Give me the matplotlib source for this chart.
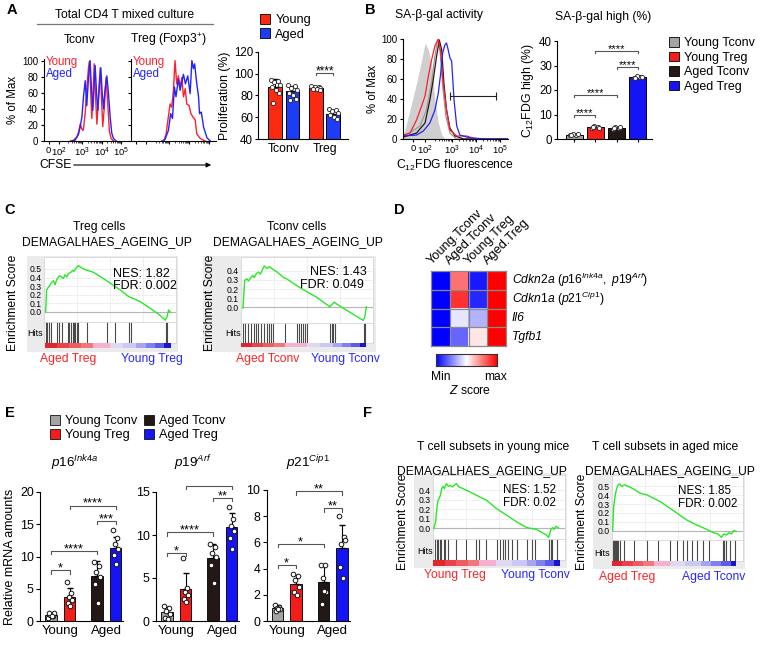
import numpy as np
import matplotlib
matplotlib.use("Agg")
import matplotlib.pyplot as plt
from matplotlib.patches import Rectangle, Patch
from matplotlib.colors import LinearSegmentedColormap

plt.rcParams['font.family'] = ['Liberation Sans', 'DejaVu Sans']
plt.rcParams['mathtext.fontset'] = 'custom'
plt.rcParams['mathtext.rm'] = 'Liberation Sans'
plt.rcParams['mathtext.it'] = 'Liberation Sans:italic'
plt.rcParams['mathtext.bf'] = 'Liberation Sans:bold'
plt.rcParams['axes.linewidth'] = 0.8
plt.rcParams['xtick.major.width'] = 0.8
plt.rcParams['ytick.major.width'] = 0.8

# ---------------- DATA ----------------
# A: CFSE histograms (x = log10 channel, y = % of max)
tconv_young_x = [2.39, 2.56, 2.73, 2.83, 2.90, 2.97, 3.04, 3.07, 3.16, 3.24, 3.33, 3.38, 3.45, 3.50, 3.55,
                 3.62, 3.69, 3.76, 3.84, 3.93, 3.99, 4.06, 4.15, 4.23, 4.32, 4.40, 4.49, 4.61]
tconv_young_y = [0, 1, 5, 12, 21, 16, 13, 15, 35, 65, 92, 99, 55, 28, 55,
                 96, 55, 21, 55, 91, 55, 18, 45, 79, 45, 12, 3, 0]
tconv_aged_x = [2.47, 2.64, 2.81, 2.90, 2.99, 3.07, 3.16, 3.24, 3.33, 3.41, 3.48, 3.55, 3.62, 3.67,
                3.74, 3.81, 3.89, 3.96, 4.03, 4.10, 4.18, 4.27, 4.35, 4.44, 4.52, 4.61, 4.75]
tconv_aged_y = [0, 1, 8, 17, 30, 55, 75, 44, 80, 100, 65, 38, 70, 94,
                60, 38, 70, 91, 60, 40, 65, 81, 60, 30, 10, 3, 0]
treg_young_x = [2.61, 2.73, 2.83, 2.95, 3.04, 3.12, 3.21, 3.29, 3.38, 3.46, 3.55, 3.64, 3.72, 3.81,
                3.89, 4.01, 4.10, 4.20, 4.32, 4.40, 4.58, 4.83]
treg_young_y = [0, 1, 8, 30, 46, 42, 63, 100, 71, 81, 67, 79, 55, 65,
                46, 44, 34, 30, 26, 9, 3, 0]
treg_aged_x = [2.66, 2.78, 2.95, 3.07, 3.16, 3.26, 3.34, 3.46, 3.55, 3.72, 3.82, 3.94, 4.06, 4.15,
               4.23, 4.29, 4.40, 4.49, 4.54, 4.63, 4.75, 4.92, 5.09]
treg_aged_y = [0, 2, 13, 34, 28, 67, 55, 77, 63, 83, 71, 81, 59, 100,
               90, 96, 71, 55, 34, 36, 17, 4, 0]

# A: proliferation (%)
prolif_groups = ["Tconv", "Treg"]
prolif_young = [88, 87]
prolif_aged = [84, 63]
prolif_young_sd = [7, 1.5]
prolif_aged_sd = [5, 3.5]
prolif_young_pts = [[94, 93, 92, 90, 88, 85, 82, 73], [89, 88, 88, 87, 86, 86, 85]]
prolif_aged_pts = [[90, 89, 87, 85, 82, 80, 77, 76], [68, 67, 66, 64, 62, 60, 58]]

# B: C12FDG histograms
ctrl_x = [1.0, 1.28, 1.55, 1.76, 1.90, 2.04, 2.18, 2.31, 2.45, 2.59, 2.73]
ctrl_y = [3, 29, 56, 79, 96, 89, 73, 39, 16, 4, 0]
ytreg_x = [1.0, 1.28, 1.55, 1.76, 1.90, 2.04, 2.17, 2.31, 2.45, 2.55, 2.65, 2.79, 2.93, 3.21, 3.62, 3.89, 4.2, 5.33]
ytreg_y = [4, 6, 19, 33, 43, 63, 79, 93, 100, 86, 56, 29, 9, 3, 3, 1, 0, 0]
atreg_x = [1.0, 1.55, 1.83, 2.10, 2.31, 2.45, 2.55, 2.63, 2.72, 2.79, 2.86, 2.93, 3.0, 3.10, 3.21, 3.34, 3.76, 4.5, 5.33]
atreg_y = [3, 4, 8, 16, 29, 46, 66, 86, 94, 96, 89, 81, 78, 39, 13, 4, 1, 0, 0]
atconv_x = [1.0, 1.55, 1.90, 2.10, 2.24, 2.38, 2.49, 2.59, 2.68, 2.79, 2.93, 3.14, 3.5, 5.33]
atconv_y = [2, 6, 16, 39, 59, 83, 99, 89, 56, 29, 11, 3, 0, 0]
ytconv_x = [1.0, 1.69, 1.96, 2.17, 2.31, 2.42, 2.52, 2.63, 2.76, 2.93, 3.2, 5.33]
ytconv_y = [2, 13, 29, 56, 83, 99, 89, 53, 23, 6, 0, 0]
gate_x = [2.93, 4.83]
gate_y = 43

# B: SA-beta-gal high (%)
subsets = ["Young Tconv", "Young Treg", "Aged Tconv", "Aged Treg"]
sagal_mean = [1.8, 4.8, 4.6, 25.2]
sagal_pts = [[1.5, 1.8, 2.0, 2.2, 1.6], [4.3, 4.8, 5.2, 4.6, 5.0], [4.2, 4.6, 5.0, 4.8, 4.4], [24.8, 25.2, 25.6, 25.4, 24.9]]
sagal_sig = [(0, 1, 10, "****"), (0, 2, 18, "****"), (2, 3, 29.5, "****"), (1, 3, 36, "****")]

# C / F: GSEA running enrichment scores (fraction of ranked list, ES)
c1_x = [0.013, 0.020, 0.033, 0.046, 0.058, 0.071, 0.084, 0.096, 0.116, 0.134, 0.147, 0.159, 0.172, 0.185, 0.203,
        0.218, 0.228, 0.243, 0.261, 0.286, 0.311, 0.329, 0.375, 0.425, 0.501, 0.577, 0.641, 0.678, 0.729, 0.805,
        0.868, 0.919, 0.932, 0.944, 0.957]
c1_es = [0.0, 0.256, 0.287, 0.315, 0.343, 0.362, 0.315, 0.374, 0.421, 0.406, 0.390, 0.433, 0.406, 0.445, 0.461,
         0.484, 0.472, 0.512, 0.539, 0.512, 0.492, 0.484, 0.461, 0.413, 0.335, 0.256, 0.177, 0.154, 0.118, 0.039,
         -0.028, -0.098, -0.059, 0.020, -0.004]
c1_hits = [0.013, 0.023, 0.041, 0.053, 0.096, 0.116, 0.137, 0.180, 0.190, 0.203, 0.218, 0.228, 0.238, 0.248,
           0.256, 0.329, 0.476, 0.539, 0.646, 0.658, 0.924, 0.929]
c2_x = [0.015, 0.028, 0.045, 0.058, 0.075, 0.090, 0.101, 0.116, 0.133, 0.146, 0.161, 0.176, 0.196, 0.216, 0.234,
        0.271, 0.322, 0.347, 0.447, 0.573, 0.673, 0.706, 0.749, 0.849, 0.925, 0.937, 0.950]
c2_es = [-0.007, 0.296, 0.311, 0.289, 0.326, 0.348, 0.326, 0.370, 0.385, 0.363, 0.407, 0.452, 0.426, 0.444, 0.422,
         0.389, 0.326, 0.311, 0.215, 0.111, 0.007, 0.056, 0.015, -0.074, -0.141, -0.111, 0.007]
c2_hits = [0.015, 0.028, 0.050, 0.075, 0.095, 0.111, 0.128, 0.151, 0.176, 0.196, 0.214, 0.226, 0.246, 0.334,
           0.422, 0.437, 0.452, 0.467, 0.485, 0.503, 0.673, 0.686, 0.698, 0.711, 0.930, 0.942]
f1_x = [0.005, 0.020, 0.030, 0.038, 0.046, 0.056, 0.066, 0.076, 0.086, 0.101, 0.116, 0.132, 0.147, 0.162, 0.177,
        0.197, 0.228, 0.253, 0.278, 0.316, 0.354, 0.405, 0.481, 0.557, 0.633, 0.709, 0.785, 0.861, 0.876, 0.891,
        0.906, 0.916, 0.932, 0.949]
f1_es = [0.0, 0.070, 0.226, 0.296, 0.313, 0.348, 0.417, 0.442, 0.417, 0.470, 0.442, 0.452, 0.435, 0.452, 0.470,
         0.435, 0.417, 0.400, 0.383, 0.358, 0.330, 0.296, 0.209, 0.139, 0.070, 0.010, -0.010, -0.070, -0.094, -0.017,
         0.010, -0.010, 0.024, 0.007]
f1_hits = [0.018, 0.028, 0.038, 0.051, 0.063, 0.081, 0.094, 0.114, 0.177, 0.253, 0.329, 0.347, 0.405, 0.486,
           0.506, 0.527, 0.547, 0.570, 0.595, 0.633, 0.709, 0.747, 0.772, 0.881, 0.891, 0.901, 0.937]
f2_x = [0.005, 0.013, 0.023, 0.033, 0.043, 0.056, 0.076, 0.094, 0.114, 0.139, 0.165, 0.215, 0.266, 0.316, 0.367,
        0.468, 0.570, 0.646, 0.722, 0.772, 0.810, 0.835, 0.853, 0.873, 0.894, 0.911, 0.929, 0.949]
f2_es = [0.0, 0.273, 0.386, 0.462, 0.508, 0.530, 0.500, 0.519, 0.508, 0.492, 0.470, 0.424, 0.405, 0.367, 0.330,
         0.227, 0.121, 0.064, 0.015, -0.023, -0.038, -0.076, -0.038, -0.049, -0.023, -0.038, 0.000, -0.008]
f2_hits = [0.010, 0.018, 0.025, 0.033, 0.041, 0.048, 0.058, 0.094, 0.165, 0.266, 0.354, 0.443, 0.494, 0.544,
           0.570, 0.608, 0.646, 0.696, 0.742, 0.848, 0.858, 0.868, 0.899, 0.939]

# D: heatmap z scores
heat_cols = ["Young.Tconv", "Aged.Tconv", "Young.Treg", "Aged.Treg"]
heat_rows = [r"$\mathit{Cdkn2a\ (p16^{Ink4a},\ p19^{Arf})}$", r"$\mathit{Cdkn1a\ (p21^{Cip1})}$",
             "Il6", "Tgfb1"]
heat_vals = [[-1.0, 0.55, -0.9, 1.0],
             [-1.0, 0.80, -0.85, 1.0],
             [-1.0, -0.10, -0.30, 1.0],
             [-1.0, -0.60, 0.10, 1.0]]

# E: relative mRNA amounts
genes = [r"$\mathit{p16^{Ink4a}}$", r"$\mathit{p19^{Arf}}$", r"$\mathit{p21^{Cip1}}$"]
mrna_mean = [[1.0, 3.7, 7.0, 11.3], [1.0, 3.7, 7.3, 10.9], [1.0, 2.85, 2.95, 5.6]]
mrna_sd = [[0.3, 1.4, 2.3, 1.7], [0.6, 1.9, 1.7, 1.7], [0.2, 0.65, 1.35, 1.7]]
mrna_pts = [
    [[0.5, 0.8, 1.0, 1.2, 1.3, 0.7], [6.0, 4.3, 3.7, 3.2, 2.8, 2.4], [9.2, 8.5, 7.6, 6.8, 5.8, 2.8], [14.1, 12.8, 12.0, 11.2, 10.2, 8.9]],
    [[1.8, 1.5, 1.2, 0.8, 0.4, 0.2], [7.3, 3.8, 3.4, 3.0, 2.6, 2.2], [9.0, 8.6, 7.9, 7.4, 6.5, 4.4], [13.3, 11.9, 11.0, 10.5, 9.6, 8.4]],
    [[1.2, 1.1, 1.0, 0.9, 0.8, 0.9], [3.6, 3.4, 3.1, 2.6, 2.2, 2.0], [4.3, 4.3, 3.3, 2.2, 1.3, 2.3], [8.0, 6.4, 5.9, 6.2, 4.1, 3.3]],
]
mrna_ylim = [20, 15, 10]
mrna_ystep = [5, 5, 2]
mrna_sig = [
    [(0, 1, 7.85, "*"), (0, 2, 10.9, "****"), (2, 3, 15.5, "***"), (1, 3, 17.9, "****")],
    [(0, 1, 7.9, "*"), (0, 2, 10.3, "****"), (2, 3, 14.3, "**"), (1, 3, 15.7, "****")],
    [(0, 1, 4.3, "*"), (0, 2, 5.9, "*"), (2, 3, 8.6, "**"), (1, 3, 9.9, "**")],
]

# ---------------- STYLE ----------------
C_GRAY, C_RED, C_DARK, C_BLUE = "#a3a3a3", "#f51c1c", "#231815", "#1414f5"
SUB_COLORS = [C_GRAY, C_RED, C_DARK, C_BLUE]
H_RED, H_BLUE = "#ff1f2f", "#2323ff"
ES_GREEN = "#27e827"
OFFS = np.array([-0.2, 0.12, -0.06, 0.2, -0.14, 0.04, 0.16, -0.1])
FS = 8.7

W, H = 764, 651
fig = plt.figure(figsize=(W / 100, H / 100), dpi=100)


def px_ax(x0, y0, x1, y1):
    return fig.add_axes([x0 / W, 1 - y1 / H, (x1 - x0) / W, (y1 - y0) / H])


def ftxt(x, y, s, **kw):
    kw.setdefault("ha", "center")
    kw.setdefault("va", "center")
    return fig.text(x / W, 1 - y / H, s, **kw)


def frect(x0, y0, x1, y1, color):
    fig.patches.append(Rectangle((x0 / W, 1 - y1 / H), (x1 - x0) / W, (y1 - y0) / H,
                                 transform=fig.transFigure, color=color, lw=0, zorder=-1))


def prism(ax):
    for s in ("top", "right"):
        ax.spines[s].set_visible(False)


def bracket(ax, xa, xb, y, label, tick, fs):
    ax.plot([xa, xa, xb, xb], [y - tick, y, y, y - tick], color="#555555", lw=0.8, clip_on=False)
    ax.annotate(label, ((xa + xb) / 2, y), xytext=(0, -1), textcoords="offset points",
                ha="center", va="baseline", fontsize=fs)


# panel letters
for lab, x, y in [("A", 12, 10), ("B", 370, 10), ("C", 10, 210), ("D", 399, 210), ("E", 10, 413), ("F", 368, 413)]:
    ftxt(x, y, lab, fontsize=10.5, fontweight="bold")

# ---------------- A ----------------
ftxt(125, 15, "Total CD4 T mixed culture", fontsize=FS)
fig.add_artist(plt.Line2D([37 / W, 213 / W], [1 - 24 / H, 1 - 24 / H], color="#777777", lw=0.9))
ftxt(80, 40, "Tconv", fontsize=FS)
ftxt(168, 40, "Treg (Foxp3$^{+}$)", fontsize=FS)

hist_specs = [((43.5, 59, 128.5, 141), tconv_young_x, tconv_young_y, tconv_aged_x, tconv_aged_y, True),
              ((130.5, 59, 216, 141), treg_young_x, treg_young_y, treg_aged_x, treg_aged_y, False)]
for box, yx, yy, ax_, ay, first in hist_specs:
    ax = px_ax(*box)
    ax.plot(yx, yy, color=H_RED, lw=1.0)
    ax.plot(ax_, ay, color=H_BLUE, lw=1.0)
    ax.set_xlim(1.02, 5.38)
    ax.set_ylim(0, 102)
    prism(ax)
    ax.set_yticks(range(0, 101, 20))
    ax.tick_params(axis="y", length=2.5, pad=1.5, labelsize=7)
    minors = [d + np.log10(k) for d in (2, 3, 4) for k in range(2, 10)]
    ax.set_xticks(minors, minor=True)
    ax.tick_params(axis="x", which="minor", length=1.5, width=0.5)
    ax.set_xticks([1.28, 1.82, 3, 4, 5])
    ax.tick_params(axis="x", length=2.5, pad=1, labelsize=6.8)
    if first:
        ax.set_xticklabels(["0", "10$^2$", "10$^3$", "10$^4$", "10$^5$"])
        ax.set_ylabel("% of Max", fontsize=8.3, labelpad=2)
    else:
        ax.set_xticklabels([])
        ax.set_yticklabels([])
    ax.text(0.03, 0.96, "Young", color=H_RED, transform=ax.transAxes, fontsize=8.3, va="center")
    ax.text(0.03, 0.82, "Aged", color=H_BLUE, transform=ax.transAxes, fontsize=8.3, va="center")

ftxt(39, 165, "CFSE", fontsize=FS, ha="left")
fig.add_artist(matplotlib.patches.FancyArrowPatch((71 / W, 1 - 165 / H), (214 / W, 1 - 165 / H),
                                                  transform=fig.transFigure, arrowstyle="-|>",
                                                  mutation_scale=7, color="black", lw=0.8))

ax = px_ax(258, 52, 348, 139)
gx = np.arange(len(prolif_groups))
off, bw = 0.213, 0.34
A_RED, A_BLUE = "#fb2a10", "#1c3cf5"
ax.bar(gx - off, prolif_young, bw, color=A_RED, edgecolor="black", lw=0.7, zorder=2)
ax.bar(gx + off, prolif_aged, bw, color=A_BLUE, edgecolor="black", lw=0.7, zorder=2)
ax.errorbar(gx - off, prolif_young, yerr=[[0] * 2, prolif_young_sd], fmt="none", ecolor="black", elinewidth=0.7, capsize=2.5, zorder=3)
ax.errorbar(gx + off, prolif_aged, yerr=[[0] * 2, prolif_aged_sd], fmt="none", ecolor="black", elinewidth=0.7, capsize=2.5, zorder=3)
for g in range(2):
    for pos, pts in ((g - off, prolif_young_pts[g]), (g + off, prolif_aged_pts[g])):
        ax.scatter(pos + OFFS[:len(pts)] * 0.55, pts, s=9, facecolor="white", edgecolor="#222222", lw=0.6, zorder=4)
ax.set_xlim(-0.63, 1.57)
ax.set_ylim(40, 120)
ax.set_yticks(range(40, 121, 20))
prism(ax)
ax.set_xticks(gx)
ax.set_xticklabels(prolif_groups)
ax.tick_params(axis="y", length=2.5, pad=1, labelsize=8.3)
ax.tick_params(axis="x", length=0, pad=3, labelsize=8.8)
ax.set_ylabel("Proliferation (%)", fontsize=8.8, labelpad=2)
bracket(ax, 1 - off, 1 + off, 100.5, "****", 2, 8.5)
fig.legend([Patch(facecolor=A_RED, edgecolor="black", lw=0.6), Patch(facecolor=A_BLUE, edgecolor="black", lw=0.6)],
           ["Young", "Aged"], loc="upper left", bbox_to_anchor=(260 / W, 1 - 14 / H), frameon=False,
           fontsize=9.2, handlelength=0.8, handleheight=0.8, handletextpad=0.4, labelspacing=0.15,
           borderpad=0, borderaxespad=0)

# ---------------- B ----------------
ftxt(439, 15, "SA-β-gal activity", fontsize=FS)
ax = px_ax(403, 39, 508, 139)
ax.fill_between(ctrl_x, ctrl_y, color="#cfcfcf", lw=0)
ax.plot(ytconv_x, ytconv_y, color="#9a9a9a", lw=0.9)
ax.plot(atconv_x, atconv_y, color="#231815", lw=0.9)
ax.plot(ytreg_x, ytreg_y, color=H_RED, lw=0.9)
ax.plot(atreg_x, atreg_y, color=H_BLUE, lw=0.9)
ax.plot(gate_x, [gate_y, gate_y], color="#222222", lw=0.8)
ax.vlines(gate_x, gate_y - 4, gate_y + 4, color="#222222", lw=0.8)
ax.set_xlim(0.99, 5.33)
ax.set_ylim(0, 100)
prism(ax)
ax.set_yticks(range(0, 101, 20))
ax.tick_params(axis="y", length=2.5, pad=1.5, labelsize=7)
ax.set_xticks([d + np.log10(k) for d in (2, 3, 4) for k in range(2, 10)], minor=True)
ax.tick_params(axis="x", which="minor", length=1.5, width=0.5)
ax.set_xticks([1.4, 1.9, 3, 4, 5])
ax.set_xticklabels(["0", "10$^2$", "10$^3$", "10$^4$", "10$^5$"])
ax.tick_params(axis="x", length=2.5, pad=1, labelsize=6.8)
ax.set_ylabel("% of Max", fontsize=8.3, labelpad=2)
ftxt(455, 165, "C$_{12}$FDG fluorescence", fontsize=FS)

ftxt(603, 17, "SA-β-gal high (%)", fontsize=FS)
ax = px_ax(557, 41, 652, 139)
bx = np.arange(4)
ax.bar(bx, sagal_mean, 0.8, color=SUB_COLORS, edgecolor="black", lw=0.7, zorder=2)
for i in range(4):
    pts = sagal_pts[i]
    ax.scatter(bx[i] + OFFS[:len(pts)] * 0.9, pts, s=9, facecolor="white", edgecolor="#222222", lw=0.6, zorder=4)
for a, b, y, s in sagal_sig:
    bracket(ax, bx[a], bx[b], y, s, 1, 8)
ax.set_xlim(-0.8, 3.66)
ax.set_ylim(0, 40)
ax.set_yticks(range(0, 41, 10))
ax.set_xticks(bx)
ax.set_xticklabels([])
prism(ax)
ax.tick_params(axis="y", length=2.5, pad=1, labelsize=8.3)
ax.tick_params(axis="x", length=2.5)
ax.set_ylabel("C$_{12}$FDG high (%)", fontsize=8.8, labelpad=2)
fig.legend([Patch(facecolor=c, edgecolor="black", lw=0.6) for c in SUB_COLORS], subsets,
           loc="upper left", bbox_to_anchor=(669 / W, 1 - 37 / H), frameon=False, fontsize=9,
           handlelength=0.8, handleheight=0.8, handletextpad=0.4, labelspacing=0.2,
           borderpad=0, borderaxespad=0)

# ---------------- C / F: GSEA ----------------
RANK_ZONES = [["#e3262e", "#e9424a", "#ee5c62", "#f2777b"], ["#f5b0d2"], ["#e0d8f2", "#cbc8f4"],
              ["#a5a5f2", "#7f7fee", "#5c5cea"], ["#1e14cc"]]


def gsea(L, xs, es, hits):
    frect(*L["gray"], "#ebebeb")
    x0, x1 = L["x"]
    y0, y1, y2, y3 = L["y"]
    a = px_ax(x0, y0, x1, y1)
    a.plot(xs, es, color=ES_GREEN, lw=1.0, zorder=3)
    a.axhline(0, color="#b5b5b5", lw=0.8, zorder=2)
    a.set_xlim(0, 1)
    a.set_ylim(*L["ylim"])
    a.set_yticks(L["yticks"])
    a.set_yticklabels([f"{t:.1f}" for t in L["yticks"]])
    a.set_xticks([0.25, 0.5, 0.75])
    a.set_xticklabels([])
    a.grid(color="#ececec", lw=0.6, zorder=0)
    a.tick_params(length=0, pad=1.5, labelsize=6.2)
    for s in a.spines.values():
        s.set_color("#d6d6d6")
        s.set_linewidth(0.6)
    a.text(L["nes"][0], L["nes"][1], L["nes_s"], transform=a.transAxes, fontsize=L["nfs"], va="center")
    a.text(L["fdr"][0], L["fdr"][1], L["fdr_s"], transform=a.transAxes, fontsize=L["nfs"], va="center")
    h = px_ax(x0, y1, x1, y2)
    h.vlines(hits, 0, 1, color="#4a4a4a", lw=0.8)
    h.set_xlim(0, 1)
    h.set_ylim(0, 1)
    h.set_xticks([])
    h.set_yticks([])
    for s in h.spines.values():
        s.set_color("#d6d6d6")
        s.set_linewidth(0.6)
    r = px_ax(x0, y2, x1, y3)
    b = L["bounds"]
    for k, cols in enumerate(RANK_ZONES):
        lo, hi = b[k], b[k + 1]
        step = (hi - lo) / len(cols)
        for j, c in enumerate(cols):
            r.axvspan(lo + j * step, lo + (j + 1) * step, color=c, lw=0)
    r.set_xlim(0, 1)
    r.axis("off")
    ftxt(L["yl"][0], L["yl"][1], "Enrichment Score", rotation=90, fontsize=FS)
    ftxt(L["hl"][0], L["hl"][1], "Hits", fontsize=6.5)
    ftxt(L["ll"][0], L["ll"][1], L["ll_s"], color="#ff2323", fontsize=FS)
    ftxt(L["rl"][0], L["rl"][1], L["rl_s"], color="#2828ff", fontsize=FS)
    ftxt(L["t1"][0], L["t1"][1], L["t1_s"], fontsize=FS)
    ftxt(L["t2"][0], L["t2"][1], "DEMAGALHAES_AGEING_UP", fontsize=FS)


gsea(dict(gray=(27, 256, 178, 352), x=(44, 176), y=(257, 322, 343, 348), ylim=(-0.12, 0.64),
          yticks=[0.0, 0.1, 0.2, 0.3, 0.4, 0.5], nes=(0.52, 0.74), fdr=(0.52, 0.56), nfs=9,
          nes_s="NES: 1.82", fdr_s="FDR: 0.002", bounds=[0.01, 0.37, 0.50, 0.70, 0.91, 0.96],
          yl=(13, 303), hl=(35, 333), ll=(68, 359), ll_s="Aged Treg", rl=(152, 359), rl_s="Young Treg",
          t1=(99, 227), t1_s="Treg cells", t2=(107, 242)), c1_x, c1_es, c1_hits)
gsea(dict(gray=(203, 256, 376, 352), x=(241, 373), y=(257, 323, 343, 347), ylim=(-0.17, 0.55),
          yticks=[0.0, 0.1, 0.2, 0.3, 0.4], nes=(0.52, 0.77), fdr=(0.445, 0.58), nfs=9,
          nes_s="NES: 1.43", fdr_s="FDR: 0.049", bounds=[0.0, 0.33, 0.50, 0.70, 0.90, 0.95],
          yl=(210, 303), hl=(233, 334), ll=(268, 359), ll_s="Aged Tconv", rl=(345, 359), rl_s="Young Tconv",
          t1=(297, 227), t1_s="Tconv cells", t2=(298, 242)), c2_x, c2_es, c2_hits)
gsea(dict(gray=(414, 473, 567, 568), x=(433, 565), y=(475, 539, 560, 566), ylim=(-0.11, 0.56),
          yticks=[0.0, 0.1, 0.2, 0.3, 0.4], nes=(0.53, 0.76), fdr=(0.53, 0.56), nfs=8.4,
          nes_s="NES: 1.52", fdr_s="FDR: 0.02", bounds=[0.0, 0.35, 0.48, 0.71, 0.92, 0.96],
          yl=(403, 522), hl=(425, 552), ll=(455, 575), ll_s="Young Treg", rl=(535, 575), rl_s="Young Tconv",
          t1=(493, 447), t1_s="T cell subsets in young mice", t2=(482, 471)), f1_x, f1_es, f1_hits)
gsea(dict(gray=(593, 473, 745, 569), x=(612, 743), y=(475, 540, 561, 566), ylim=(-0.106, 0.63),
          yticks=[0.0, 0.1, 0.2, 0.3, 0.4, 0.5], nes=(0.5, 0.75), fdr=(0.5, 0.55), nfs=8.4,
          nes_s="NES: 1.85", fdr_s="FDR: 0.002", bounds=[0.0, 0.32, 0.44, 0.68, 0.91, 0.95],
          yl=(582, 522), hl=(602, 553), ll=(627, 577), ll_s="Aged Treg", rl=(714, 577), rl_s="Aged Tconv",
          t1=(665, 447), t1_s="T cell subsets in aged mice", t2=(670, 471)), f2_x, f2_es, f2_hits)

# ---------------- D ----------------
zcmap = LinearSegmentedColormap.from_list("z", ["#0000ff", "#ffffff", "#ff0000"])
ax = px_ax(431, 271, 506, 346)
ax.imshow(np.array(heat_vals), cmap=zcmap, vmin=-1, vmax=1, aspect="auto")
for k in range(1, 4):
    ax.axhline(k - 0.5, color="#8a8a8a", lw=0.9)
    ax.axvline(k - 0.5, color="#8a8a8a", lw=0.9)
ax.set_xticks([])
ax.set_yticks([])
for s in ax.spines.values():
    s.set_color("#8a8a8a")
    s.set_linewidth(0.9)
for j, lab in enumerate(heat_cols):
    cx = 431 + (j + 0.5) * 75 / 4
    ftxt(cx - 7, 267, lab, rotation=45, rotation_mode="anchor", ha="left", va="bottom", fontsize=9.2)
for i, lab in enumerate(heat_rows):
    ftxt(512, 271 + (i + 0.5) * 75 / 4, lab, ha="left", fontsize=FS, fontstyle="italic")
cax = px_ax(436, 354, 497, 366)
cax.imshow(np.linspace(-1, 1, 256)[None, :], cmap=zcmap, aspect="auto")
cax.set_xticks([])
cax.set_yticks([])
for s in cax.spines.values():
    s.set_color("#333333")
ftxt(441, 377, "Min", fontsize=FS)
ftxt(496, 377, "max", fontsize=FS)
ftxt(470, 391, r"$\mathit{Z}$ score", fontsize=FS)

# ---------------- E ----------------
epos = np.array([0, 1, 2.5, 3.5])
e_boxes = [(40, 492, 123, 621), (156, 492, 239, 621), (266.5, 490, 349.5, 621)]
e_title_x = [75, 193, 308]
for g in range(3):
    ax = px_ax(*e_boxes[g])
    ax.bar(epos, mrna_mean[g], 0.63, color=SUB_COLORS, edgecolor="#111111", lw=0.7, zorder=2)
    ax.errorbar(epos, mrna_mean[g], yerr=[[0] * 4, mrna_sd[g]], fmt="none", ecolor="black",
                elinewidth=0.8, capsize=2.5, zorder=3)
    for i in range(4):
        pts = mrna_pts[g][i]
        ax.scatter(epos[i] + OFFS[:len(pts)] * 0.75, pts, s=11, facecolor="white", edgecolor="#111111",
                   lw=0.7, zorder=4)
    for a, b, y, s in mrna_sig[g]:
        bracket(ax, epos[a], epos[b], y, s, mrna_ylim[g] * 0.025, 9.3)
    ax.set_xlim(-0.6, 3.9)
    ax.set_ylim(0, mrna_ylim[g])
    ax.set_yticks(np.arange(0, mrna_ylim[g] + 0.1, mrna_ystep[g]))
    ax.set_xticks([0.5, 3.0])
    ax.set_xticklabels(["Young", "Aged"])
    prism(ax)
    ax.tick_params(axis="y", length=3, pad=1.5, labelsize=8.9)
    ax.tick_params(axis="x", length=0, pad=3, labelsize=9.5)
    if g == 0:
        ax.set_ylabel("Relative mRNA amounts", fontsize=9, labelpad=3)
    ftxt(e_title_x[g], 463, genes[g], fontsize=9.7)

fig.legend([Patch(facecolor=c, edgecolor="#111111", lw=0.6) for c in SUB_COLORS], subsets, ncol=2,
           loc="upper left", bbox_to_anchor=(50 / W, 1 - 415 / H), frameon=False, fontsize=9.2,
           handlelength=0.8, handleheight=0.8, handletextpad=0.4, labelspacing=0.12, columnspacing=0.5,
           borderpad=0, borderaxespad=0)

fig.savefig("out.png", dpi=100)
